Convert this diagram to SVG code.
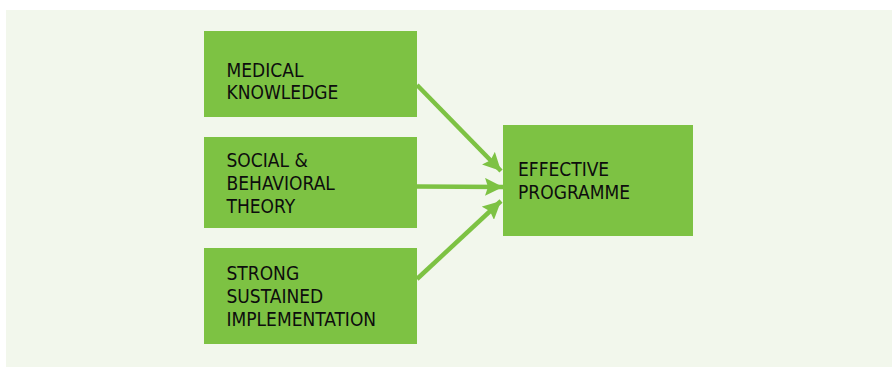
<svg xmlns="http://www.w3.org/2000/svg" width="892" height="367" viewBox="0 0 892 367">
<style>
.box{fill:#7DC243}
.t{font-family:"DejaVu Sans Condensed","DejaVu Sans",sans-serif;font-stretch:condensed;font-size:19px;fill:#0d0d0d}
.c{stroke:#7DC243;stroke-width:4.5;fill:none}
</style>
<defs>
<marker id="ah" markerUnits="userSpaceOnUse" markerWidth="20" markerHeight="18" refX="18" refY="9" orient="auto">
<path d="M0,0 L18,9 L0,18 L3,9 Z" fill="#7DC243"/>
</marker>
</defs>
<rect x="6" y="10" width="886" height="357" fill="#F2F7EC"/>
<g id="connectors">
<line class="c" x1="417" y1="85" x2="501" y2="171" marker-end="url(#ah)"/>
<line class="c" x1="417" y1="186.5" x2="503" y2="187" marker-end="url(#ah)"/>
<line class="c" x1="417" y1="279" x2="501" y2="201" marker-end="url(#ah)"/>
</g>
<g id="medical">
<rect class="box" x="204" y="31" width="213" height="86"/>
<text class="t" x="226.5" y="76.5">MEDICAL</text>
<text class="t" x="226.5" y="99">KNOWLEDGE</text>
</g>
<g id="social">
<rect class="box" x="204" y="137" width="213" height="91"/>
<text class="t" x="226.5" y="167.3">SOCIAL &amp;</text>
<text class="t" x="226.5" y="190">BEHAVIORAL</text>
<text class="t" x="226.5" y="212.7">THEORY</text>
</g>
<g id="strong">
<rect class="box" x="204" y="248" width="213" height="96"/>
<text class="t" x="226.5" y="280">STRONG</text>
<text class="t" x="226.5" y="302.7">SUSTAINED</text>
<text class="t" x="226.5" y="325.7">IMPLEMENTATION</text>
</g>
<g id="effective">
<rect class="box" x="503" y="125" width="190" height="111"/>
<text class="t" x="518" y="175.7">EFFECTIVE</text>
<text class="t" x="518" y="199">PROGRAMME</text>
</g>
</svg>
